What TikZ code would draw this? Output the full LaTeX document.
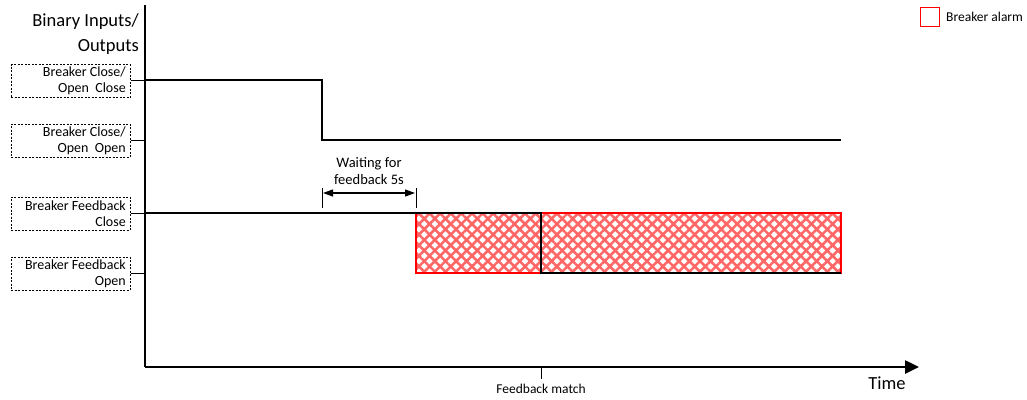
\documentclass[tikz,border=0pt]{standalone}
\usepackage{fontspec}
\setmainfont{Carlito}
\usetikzlibrary{arrows.meta,patterns.meta}
\begin{document}
\begin{tikzpicture}[x=1pt,y=-1pt,
  sigbox/.style={draw,dashed,line width=1pt,dash pattern=on 2pt off 1.5pt,minimum width=119pt,minimum height=33pt,inner sep=0pt},
  sig/.style={line width=2pt,line join=miter},
  boxtxt/.style={font=\fontsize{14}{16}\selectfont,align=right,anchor=east,inner sep=0pt},
  conn/.style={line width=1pt}]
\useasboundingbox (0,0) rectangle (1027,399);
% hatched alarm region
\fill[pattern={Lines[angle=45,distance=7.5pt,line width=2.6pt]},pattern color=red!60] (416,213) rectangle (841,273);
\fill[pattern={Lines[angle=-45,distance=7.5pt,line width=2.6pt]},pattern color=red!60] (416,213) rectangle (841,273);
\draw[red,line width=1.5pt] (416,213) rectangle (841,273);
% axes
\coordinate (ytop) at (145,5);
\coordinate (orig) at (145,367);
\coordinate (xend) at (919,367);
\draw[line width=2.5pt] (ytop) -- (orig);
\draw[line width=2.5pt,-{Triangle[length=14pt,width=13pt]}] (orig) -- (xend);
\node[font=\fontsize{18.5}{25}\selectfont,align=right,anchor=east,inner sep=0pt] (title) at (139,34) {Binary Inputs/\\Outputs};
% boxes
\node[sigbox] (b1) at (70.5,81) {};
\node[boxtxt] (t1) at (126,81) {Breaker Close/\\Open\ \ Close};
\node[sigbox] (b2) at (70.5,140.5) {};
\node[boxtxt] (t2) at (126,140.5) {Breaker Close/\\Open\ \ Open};
\node[sigbox] (b3) at (70.5,213.5) {};
\node[boxtxt] (t3) at (126,213.5) {Breaker Feedback\\Close};
\node[sigbox] (b4) at (70.5,273.5) {};
\node[boxtxt] (t4) at (126,273.5) {Breaker Feedback\\Open};
\coordinate (a1) at (145,80);
\coordinate (a2) at (145,140);
\coordinate (a3) at (145,213);
\coordinate (a4) at (145,273);
\draw[conn] (b1.east|-a1) -- (a1);
\draw[conn] (b2.east|-a2) -- (a2);
\draw[conn] (b3.east|-a3) -- (a3);
\draw[conn] (b4.east|-a4) -- (a4);
% signals
\coordinate (s1a) at (322,80);
\coordinate (s1b) at (322,140);
\coordinate (s1e) at (841,140);
\draw[sig] (a1) -- (s1a) -- (s1b) -- (s1e);
\coordinate (s2a) at (541,213);
\coordinate (s2b) at (541,273);
\coordinate (s2e) at (841,273);
\draw[sig] (a3) -- (s2a) -- (s2b) -- (s2e);
% waiting dimension
\coordinate (w1t) at (322,188);
\coordinate (w1b) at (322,208);
\coordinate (w2t) at (416,188);
\coordinate (w2b) at (416,208);
\draw[line width=1pt] (w1t) -- (w1b);
\draw[line width=1pt] (w2t) -- (w2b);
\draw[line width=1.2pt,{Triangle[length=10pt,width=7pt]}-{Triangle[length=10pt,width=7pt]}] (323,193) -- (415,193);
\node[font=\fontsize{14.5}{17}\selectfont,align=center,inner sep=0pt] (wait) at (369,171) {Waiting for\\feedback 5s};
% feedback match
\coordinate (fm) at (541,367);
\coordinate (fmb) at (541,379);
\draw[line width=1pt] (fm) -- (fmb);
\node[font=\fontsize{13.5}{15}\selectfont,inner sep=0pt] (fmt) at (541,389) {Feedback match};
\node[font=\fontsize{18.5}{21}\selectfont,inner sep=0pt] (time) at (887,383) {Time};
% legend
\node[draw=red,line width=1.5pt,minimum size=19pt,inner sep=0pt] (leg) at (930,17) {};
\node[font=\fontsize{13.5}{15}\selectfont,anchor=west,inner sep=0pt] (legt) at (946,17) {Breaker alarm};
\end{tikzpicture}
\end{document}
